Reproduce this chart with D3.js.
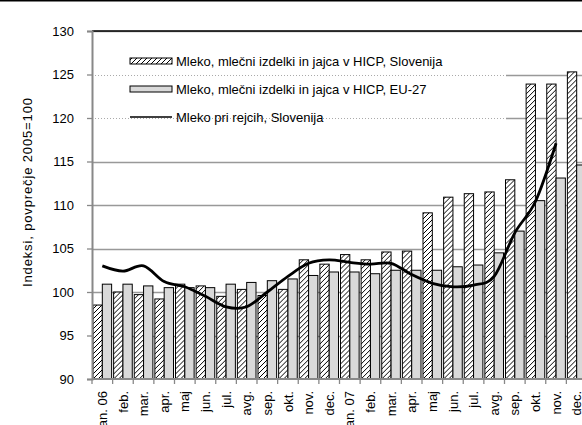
<!DOCTYPE html>
<html lang="sl">
<head>
    <meta charset="UTF-8">
    <title>Mleko</title>
    <script src="https://cdn.jsdelivr.net/npm/d3@7"></script>
    <style>
        body { margin: 0; background: #fff; }
        text { font-family: "Liberation Sans", Arial, sans-serif; fill: #000; }
    </style>
</head>
<body>
<div id="chart"></div>
<script>
    // month labels
    var months = ["jan. 06", "feb.", "mar.", "apr.", "maj", "jun.", "jul.", "avg.", "sep.", "okt.", "nov.", "dec.",
                  "jan. 07", "feb.", "mar.", "apr.", "maj", "jun.", "jul.", "avg.", "sep.", "okt.", "nov.", "dec."];

    // HICP milk, dairy & eggs, Slovenia (hatched)
    var hicpSi = [98.5, 100.0, 99.7, 99.2, 100.9, 100.7, 99.5, 100.3, 99.6, 100.3, 103.7, 103.2,
                  104.3, 103.7, 104.6, 104.7, 109.1, 110.9, 111.3, 111.5, 112.9, 123.9, 123.9, 125.3];

    // HICP milk, dairy & eggs, EU-27 (grey)
    var hicpEu = [100.9, 100.9, 100.7, 100.5, 100.5, 100.5, 100.9, 101.1, 101.3, 101.5, 101.9, 102.3,
                  102.3, 102.1, 102.5, 102.5, 102.5, 102.9, 103.1, 104.5, 107.0, 110.5, 113.1, 114.6];

    // farm-gate milk price, Slovenia (line)
    var farmMilk = [103.0, 102.4, 103.0, 101.2, 100.6, 99.5, 98.3, 98.3, 100.0, 101.8, 103.3, 103.7,
                    103.4, 103.2, 103.3, 102.0, 101.0, 100.6, 100.8, 101.8, 106.8, 110.4, 117.1, null];

    var yTicks = [90, 95, 100, 105, 110, 115, 120, 125, 130];

    var legendNames = ["Mleko, mlečni izdelki in jajca v HICP, Slovenija",
                       "Mleko, mlečni izdelki in jajca v HICP, EU-27",
                       "Mleko pri rejcih, Slovenija"];

    var width = 582, height = 425;
    var plotLeft = 92, plotRight = 587, plotTop = 31, plotBottom = 379;

    var svg = d3.select("#chart").append("svg")
        .attr("width", width)
        .attr("height", height);

    // hatch pattern
    var pat = svg.append("defs").append("pattern")
        .attr("id", "hatch")
        .attr("patternUnits", "userSpaceOnUse")
        .attr("width", 5).attr("height", 5);
    pat.append("rect").attr("width", 5).attr("height", 5).attr("fill", "#fff");
    pat.append("path")
        .attr("d", "M-1,1 l2,-2 M0,5 l5,-5 M4,6 l2,-2")
        .attr("stroke", "#000").attr("stroke-width", 1);

    // outer frame top line
    svg.append("line")
        .attr("x1", 0).attr("x2", width).attr("y1", 0.7).attr("y2", 0.7)
        .attr("stroke", "#000").attr("stroke-width", 1.5);

    // scales
    var x = d3.scaleBand().domain(d3.range(months.length)).range([plotLeft, plotRight]).padding(0);
    var x1 = d3.scaleBand().domain(["si", "eu"]).range([1, x.bandwidth() - 1]).padding(0);
    var y = d3.scaleLinear().domain([90, 130]).range([plotBottom, plotTop]);

    var legendRight = 506;

    // gridlines
    yTicks.forEach(function (t) {
        if (t === 90) return;
        var yy = Math.round(y(t)) + 0.5;
        if (t === 120 || t === 125) {
            svg.append("line")
                .attr("x1", plotLeft).attr("x2", legendRight).attr("y1", yy).attr("y2", yy)
                .attr("stroke", "#aaa").attr("stroke-width", 1).attr("stroke-dasharray", "1,2");
            svg.append("line")
                .attr("x1", legendRight).attr("x2", plotRight).attr("y1", yy).attr("y2", yy)
                .attr("stroke", "#999").attr("stroke-width", 1.3);
        } else {
            svg.append("line")
                .attr("x1", plotLeft).attr("x2", plotRight).attr("y1", yy).attr("y2", yy)
                .attr("stroke", "#999").attr("stroke-width", 1.3);
        }
    });

    // bars
    var groups = svg.append("g").selectAll("g")
        .data(months.map(function (m, i) { return i; }))
        .enter().append("g")
        .attr("transform", function (i) { return "translate(" + x(i) + ",0)"; });

    groups.append("rect")
        .attr("x", x1("si"))
        .attr("width", x1.bandwidth())
        .attr("y", function (i) { return y(hicpSi[i]); })
        .attr("height", function (i) { return y(90) - y(hicpSi[i]); })
        .attr("fill", "url(#hatch)")
        .attr("stroke", "#000").attr("stroke-width", 1);

    groups.append("rect")
        .attr("x", x1("eu"))
        .attr("width", x1.bandwidth())
        .attr("y", function (i) { return y(hicpEu[i]); })
        .attr("height", function (i) { return y(90) - y(hicpEu[i]); })
        .attr("fill", "#d9d9d9")
        .attr("stroke", "#000").attr("stroke-width", 1);

    // line
    var line = d3.line()
        .defined(function (d) { return d != null; })
        .x(function (d, i) { return x(i) + x.bandwidth() / 2; })
        .y(function (d) { return y(d); })
        .curve(d3.curveCardinal.tension(0));

    svg.append("path")
        .datum(farmMilk)
        .attr("d", line)
        .attr("fill", "none")
        .attr("stroke", "#000")
        .attr("stroke-width", 2.8);

    // plot top border
    svg.append("line")
        .attr("x1", plotLeft).attr("x2", plotRight).attr("y1", plotTop).attr("y2", plotTop)
        .attr("stroke", "#000").attr("stroke-width", 1.5);

    // y axis
    var yAxis = svg.append("g")
        .attr("transform", "translate(" + plotLeft + ",0)")
        .call(d3.axisLeft(y).tickValues(yTicks).tickSize(5).tickPadding(13));
    yAxis.select(".domain").attr("stroke", "#888").attr("stroke-width", 2);
    yAxis.selectAll(".tick line").attr("stroke", "#888").attr("stroke-width", 1.3);
    yAxis.selectAll("text").style("font-size", "13px").attr("fill", "#000");

    // x axis
    var xAxis = svg.append("g")
        .attr("transform", "translate(0," + plotBottom + ")");
    xAxis.append("line")
        .attr("x1", plotLeft).attr("x2", plotRight).attr("y1", 0).attr("y2", 0)
        .attr("stroke", "#888").attr("stroke-width", 2);
    xAxis.selectAll(".xt")
        .data(d3.range(months.length + 1))
        .enter().append("line")
        .attr("x1", function (i) { return plotLeft + i * x.step(); })
        .attr("x2", function (i) { return plotLeft + i * x.step(); })
        .attr("y1", 0).attr("y2", 5)
        .attr("stroke", "#888").attr("stroke-width", 1.3);
    xAxis.selectAll(".xl")
        .data(months)
        .enter().append("text")
        .attr("transform", function (d, i) {
            return "translate(" + (x(i) + x.bandwidth() / 2) + ",12) rotate(-90)";
        })
        .attr("text-anchor", "end")
        .attr("dy", "0.35em")
        .style("font-size", "13px")
        .text(function (d) { return d; });

    // y title
    svg.append("text")
        .attr("transform", "translate(27.5,192.5) rotate(-90)")
        .attr("text-anchor", "middle")
        .attr("dy", "0.35em")
        .attr("textLength", 189)
        .attr("lengthAdjust", "spacing")
        .style("font-size", "13px")
        .text("Indeksi, povprečje 2005=100");

    // legend
    var legY = [61, 89, 117];
    var lg = svg.append("g");
    lg.append("rect")
        .attr("x", 130).attr("y", legY[0] - 3).attr("width", 42).attr("height", 6)
        .attr("fill", "url(#hatch)").attr("stroke", "#000").attr("stroke-width", 1);
    lg.append("rect")
        .attr("x", 130).attr("y", legY[1] - 3).attr("width", 42).attr("height", 6)
        .attr("fill", "#d9d9d9").attr("stroke", "#000").attr("stroke-width", 1);
    lg.append("line")
        .attr("x1", 130).attr("x2", 172).attr("y1", legY[2]).attr("y2", legY[2])
        .attr("stroke", "#000").attr("stroke-width", 1.5);
    lg.selectAll("text")
        .data(legendNames)
        .enter().append("text")
        .attr("x", 176)
        .attr("y", function (d, i) { return legY[i]; })
        .attr("dy", "0.35em")
        .style("font-size", "13px")
        .text(function (d) { return d; });
</script>
</body>
</html>
